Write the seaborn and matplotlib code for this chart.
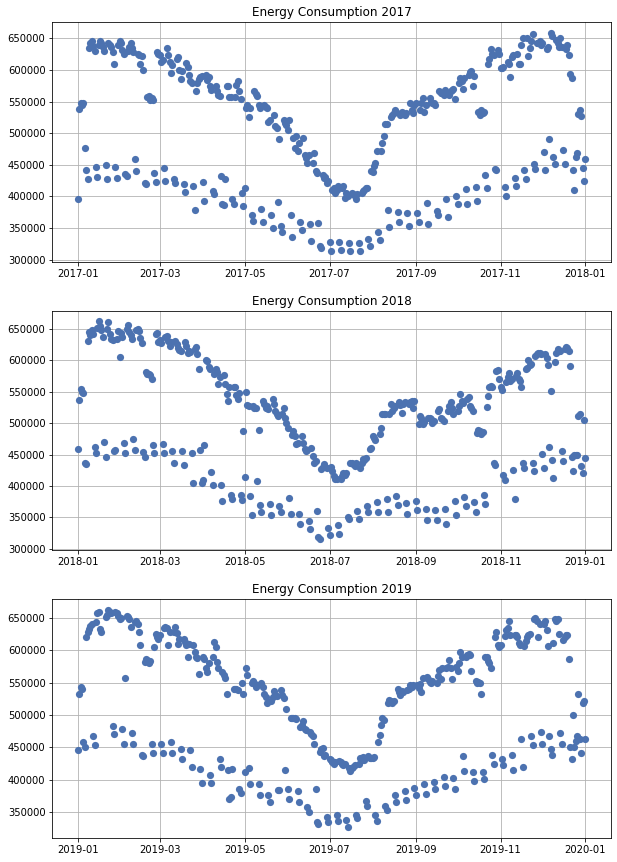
import numpy as np
import pandas as pd
import matplotlib
matplotlib.use("Agg")
import matplotlib.pyplot as plt
import matplotlib.dates as mdates
import seaborn as sns

nan = np.nan

# daily consumption in thousands, from 1 Jan of the year to 1 Jan of the next year
# 2017 rows start on Sunday (Sun..Sat)
cons_2017 = [
    395, 538, 548, 545, 548, 476, 441,
    428, 635, 642, 645, 638, 630, 446,
    430, 640, 645, 642, 636, 630, 450,
    427, 643, 640, 636, 628, 610, 446,
    429, 640, 646, 642, 632, 625, 436,
    432, 630, 636, 642, 634, 628, 459,
    440, 626, 624, 610, 622, 600, 421,
    420, 557, 558, 553, 555, 552, 437,
    423, 629, 626, 624, 613, 615, 445,
    425, 635, 624, 613, 595, 608, 427,
    421, 618, 621, 600, 585, 598, 419,
    407, 611, 605, 592, 582, 579, 417,
    378, 566, 579, 585, 589, 590, 423,
    393, 592, 584, 589, 574, 568, 408,
    403, 574, 566, 560, 558, 432, 388,
    387, 428, 574, 574, 557, 557, 396,
    388, 557, 576, 582, 566, 554, 405,
    384, 413, 540, 545, 526, 540, 371,
    361, 566, 562, 558, 545, 540, 380,
    360, 545, 542, 540, 518, 520, 371,
    350, 529, 511, 508, 391, 490, 353,
    344, 521, 516, 513, 505, 520, 371,
    336, 492, 476, 495, 471, 485, 360,
    347, 492, 466, 460, 453, 466, 357,
    330, 452, 468, 440, 437, 358, 322,
    318, 434, 429, 431, 421, 424, 328,
    314, 410, 413, 405, 410, 416, 328,
    315, 413, 416, 397, 405, 400, 326,
    314, 405, 403, 400, 395, 403, 326,
    314, 405, 408, 410, 413, 413, 333,
    322, 440, 438, 448, 452, 471, 344,
    331, 471, 484, 495, 515, 515, 379,
    352, 526, 529, 532, 537, 534, 375,
    360, 529, 534, 530, 528, 532, 374,
    353, 547, 537, 532, 545, 548, 373,
    360, 537, 547, 555, 534, 545, 390,
    356, 555, 550, 547, 547, 545, 377,
    370, 566, 563, 563, 560, 568, 396,
    367, 560, 566, 568, 570, 554, 401,
    388, 579, 588, 582, 570, 588, 412,
    388, 592, 597, 599, 575, 590, 415,
    393, 533, 529, 537, 532, 534, 433,
    413, 610, 618, 633, 626, 624, 443,
    442, 632, 626, 603, 603, 605, 415,
    401, 613, 610, 589, 620, 624, 429,
    417, 626, 610, 610, 640, 650, 441,
    427, 650, 622, 634, 645, 657, 451,
    443, 643, 642, 645, 640, 642, 470,
    442, 633, 637, 490, 658, 653, 462,
    451, 647, 642, 637, 650, 637, 473,
    451, 633, 640, 624, 593, 588, 442,
    410, 463, 468, 530, 537, 527, 445,
    424, 459,
]

# 2018 rows start on Monday (Mon..Sun)
cons_2018 = [
    459, 537, 554, 550, 548, 437, 435,
    631, 645, 640, 648, 642, 462, 452,
    652, 662, 655, 648, 638, 470, 447,
    650, 661, 642, 634, 632, 456, 457,
    634, 646, 606, 643, 638, 469, 452,
    650, 657, 645, 640, 634, 475, 457,
    648, 650, 646, 636, 627, 455, 447,
    581, 579, 578, 576, 570, 465, 452,
    642, 643, 630, 632, 628, 467, 452,
    637, 639, 631, 623, 629, 456, 437,
    631, 626, 620, 616, 615, 456, 434,
    629, 623, 612, 615, 614, 452, 405,
    618, 622, 610, 587, 457, 405, 410,
    465, 601, 599, 589, 586, 422, 402,
    578, 586, 582, 562, 574, 402, 376,
    576, 562, 547, 536, 557, 386, 379,
    557, 558, 545, 538, 548, 386, 378,
    488, 414, 549, 529, 527, 384, 354,
    527, 525, 524, 408, 489, 370, 359,
    536, 530, 525, 528, 522, 371, 354,
    538, 530, 520, 514, 512, 368, 359,
    515, 525, 509, 500, 493, 381, 355,
    482, 488, 480, 467, 469, 355, 339,
    480, 469, 459, 456, 458, 344, 332,
    461, 448, 436, 440, 360, 319, 316,
    427, 430, 435, 430, 428, 334, 322,
    430, 424, 416, 412, 412, 338, 323,
    412, 416, 421, 418, 421, 350, 348,
    437, 436, 435, 432, 436, 360, 348,
    428, 437, 443, 441, 445, 368, 359,
    459, 461, 480, 477, 474, 375, 359,
    483, 493, 514, 515, 514, 380, 359,
    514, 530, 520, 525, 528, 384, 370,
    533, 529, 517, 530, 533, 373, 356,
    530, 533, 536, 525, 536, 377, 362,
    499, 512, 509, 499, 502, 363, 346,
    509, 509, 506, 501, 503, 362, 346,
    520, 522, 509, 506, 504, 363, 339,
    520, 528, 533, 525, 514, 376, 354,
    520, 528, 546, 536, 532, 382, 368,
    538, 541, 528, 525, 519, 375, 359,
    485, 490, 488, 483, 486, 386, 371,
    526, 544, 557, 560, 557, 437, 434,
    583, 584, 570, 557, 553, 418, 410,
    565, 573, 580, 567, 570, 426, 379,
    575, 580, 570, 567, 557, 437, 429,
    586, 588, 600, 592, 594, 436, 424,
    607, 610, 611, 612, 610, 451, 428,
    610, 604, 593, 462, 551, 441, 413,
    598, 612, 618, 615, 615, 456, 440,
    618, 622, 620, 615, 591, 447, 424,
    449, 450, 450, 512, 514, 432, 421,
    505, 444,
]

# 2019 rows start on Tuesday (Tue..Mon)
cons_2019 = [
    446, 532, 543, 540, 459, 450, 621,
    628, 633, 638, 640, 467, 454, 644,
    657, 659, 633, 629, nan, nan, 652,
    654, 663, 659, 657, 483, 471, 660,
    657, 653, 648, 650, 479, 456, 558,
    653, 652, 648, 636, 472, 456, 644,
    646, 640, 628, 608, 439, 437, 582,
    587, 585, 580, 583, 456, 441, 605,
    626, 621, 618, 624, 456, 442, 634,
    636, 635, 609, 628, 459, 442, 628,
    636, 627, 610, 618, 447, 432, 618,
    613, 608, 590, 610, 446, 419, 608,
    598, 590, 588, 564, 416, 395, 590,
    587, 572, 567, 580, 407, 395, 590,
    613, 605, 582, 572, 432, 419, 567,
    562, 558, 532, 415, 370, 374, 416,
    541, 540, 541, 538, 386, 379, 550,
    532, 412, 573, 562, 418, 393, 550,
    552, 549, 543, 546, 394, 377, 549,
    543, 533, 528, 519, 376, 366, 521,
    528, 537, 531, 529, 384, 384, 538,
    531, 526, 415, 510, 385, 371, 495,
    496, 495, 496, 494, 382, 365, 482,
    485, 491, 479, 477, 358, 350, 474,
    470, 467, 455, 386, 334, 332, 443,
    448, 449, 436, 438, 342, 334, 432,
    430, 428, 425, 428, 345, 336, 429,
    428, 425, 423, 425, 338, 327, 418,
    414, 418, 420, 423, 345, 341, 425,
    433, 430, 435, 431, 367, 360, 436,
    433, 434, 433, 435, 345, 336, 459,
    469, 484, 496, 492, 360, 354, 519,
    524, 521, 518, 522, 377, 365, 541,
    536, 531, 537, 536, 383, 369, 538,
    541, 546, 543, 546, 387, 376, 546,
    542, 548, 535, 557, 394, 378, 559,
    556, 551, 550, 552, 396, 385, 550,
    561, 569, 556, 573, 404, 390, 573,
    575, 585, 572, 556, 402, 385, 575,
    568, 580, 597, 590, 436, 414, 590,
    593, 594, 593, 568, 412, 398, 552,
    550, 551, 550, 533, 412, 401, 589,
    590, 583, 580, 573, 439, 425, 621,
    628, 609, 605, 608, 432, 423, 622,
    631, 635, 645, 623, 439, 415, 623,
    624, 621, 611, 609, 463, 420, 607,
    614, 621, 624, 625, 467, 453, 648,
    650, 646, 621, 640, 474, 456, 641,
    645, 631, 607, 467, 447, 439, 612,
    649, 646, 648, 626, 472, 455, 616,
    621, 623, 624, 587, 450, 432, 500,
    450, 460, 468, 532, 463, 442, 519,
    521, 463,
]

years = [2017, 2018, 2019]
series = [cons_2017, cons_2018, cons_2019]

# figure drawn at 72 dpi like a notebook inline plot
fig, axes = plt.subplots(3, 1, figsize=(617 / 72, 862 / 72), dpi=72)
plt.subplots_adjust(left=0.085, right=0.99, top=0.974, bottom=0.028, hspace=0.205)

for ax, year, vals in zip(axes, years, series):
    dates = pd.date_range(f"{year}-01-01", periods=len(vals), freq="D")
    y = np.array(vals, dtype=float) * 1000
    sns.scatterplot(x=dates, y=y, ax=ax, color="#4C72B0", s=52, linewidth=0)
    ax.set_title(f"Energy Consumption {year}")
    ax.set_xlabel("")
    ax.set_ylabel("")
    ax.xaxis.set_major_locator(mdates.MonthLocator(bymonth=[1, 3, 5, 7, 9, 11]))
    ax.xaxis.set_major_formatter(mdates.DateFormatter("%Y-%m"))
    ax.grid(True, color="#b0b0b0", linewidth=0.8)
    ax.set_axisbelow(True)

plt.savefig("out.png", dpi=72)
